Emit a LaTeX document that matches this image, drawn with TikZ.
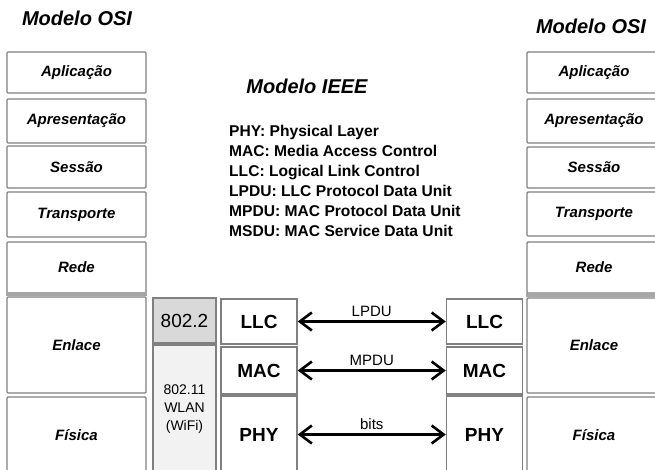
\documentclass[tikz,border=0pt]{standalone}
\usepackage{fontspec}
\setmainfont{Liberation Sans}
\usetikzlibrary{arrows.meta}

\begin{document}
\begin{tikzpicture}[x=1pt, y=-1pt,
    every node/.append style={inner sep=0pt},
    osibox/.style={draw=black!50, line width=1.4pt, rounded corners=1pt,
      minimum width=139pt, font=\fontsize{15}{18}\selectfont\bfseries\itshape},
    ieeebox/.style={draw=black!50, line width=1.4pt, minimum width=76pt,
      font=\fontsize{19}{22}\selectfont\bfseries},
    stdbox/.style={draw=black!50, line width=1.4pt, minimum width=63pt, align=center},
    pdu/.style={{Straight Barb[length=12pt,width=18pt]}-{Straight Barb[length=12pt,width=18pt]},
      line width=2.6pt},
    pdulabel/.style={midway, above=4pt, font=\fontsize{15}{18}\selectfont},
    title/.style={font=\fontsize{20}{24}\selectfont\bfseries\itshape}]
  \clip (0,0) rectangle (655,469);

  % titles and legend
  \node (osiL) [title] at (77,18) {Modelo OSI};
  \node (osiR) [title] at (591,26) {Modelo OSI};
  \node (ieee) [title] at (307,86) {Modelo IEEE};
  \node (legend) [anchor=north west, align=left, font=\fontsize{15.6}{20}\selectfont\bfseries]
    at (229,124.5) {PHY: Physical Layer\\MAC: Media Access Control\\LLC: Logical Link Control\\
    LPDU: LLC Protocol Data Unit\\MPDU: MAC Protocol Data Unit\\MSDU: MAC Service Data Unit};

  % OSI model, left
  \node (aplL) [osibox, minimum height=41pt] at (76.5,72.5) {Aplicação};
  \node (aprL) [osibox, minimum height=44pt] at (76.5,121) {Apresentação};
  \node (sesL) [osibox, minimum height=42pt] at (76.5,167) {Sessão};
  \node (traL) [osibox, minimum height=45pt] at (76.5,214.5) {Transporte};
  \node (redL) [osibox, minimum height=51pt] at (76.5,267.5) {Rede};
  \node (enlL) [osibox, minimum height=96pt] at (76.5,345) {Enlace};
  \node (fisL) [osibox, minimum height=76pt] at (76.5,435) {Física};
  \draw[line width=4pt, black!35] ([yshift=2.5pt]enlL.north west) -- ([yshift=2.5pt]enlL.north east);

  % OSI model, right
  \node (aplR) [osibox, minimum width=134pt, minimum height=41pt] at (594,72.5) {Aplicação};
  \node (aprR) [osibox, minimum width=134pt, minimum height=44pt] at (594,121) {Apresentação};
  \node (sesR) [osibox, minimum width=134pt, minimum height=41pt] at (594,167.5) {Sessão};
  \node (traR) [osibox, minimum width=134pt, minimum height=44pt] at (594,214) {Transporte};
  \node (redR) [osibox, minimum width=134pt, minimum height=51pt] at (594,267.5) {Rede};
  \node (enlR) [osibox, minimum width=134pt, minimum height=95pt] at (594,345.5) {Enlace};
  \node (fisR) [osibox, minimum width=134pt, minimum height=76pt] at (594,435) {Física};
  \draw[line width=4pt, black!35] ([yshift=2.5pt]enlR.north west) -- ([yshift=2.5pt]enlR.north east);

  % IEEE standards
  \node (std2) [stdbox, fill=black!15, minimum height=45pt, font=\fontsize{19}{22}\selectfont]
    at (184.5,320.5) {802.2};
  \node (std11) [stdbox, fill=black!5, minimum height=128pt, font=\fontsize{14}{18}\selectfont]
    at (184.5,409) {802.11\\WLAN\\(WiFi)};

  % IEEE model, both sides
  \node (llcL) [ieeebox, minimum height=45pt] at (259,321.5) {LLC};
  \node (macL) [ieeebox, minimum height=47pt] at (259,370.5) {MAC};
  \node (phyL) [ieeebox, minimum height=77pt] at (259,434.5) {PHY};
  \node (llcR) [ieeebox, minimum height=45pt] at (484.5,321.5) {LLC};
  \node (macR) [ieeebox, minimum height=47pt] at (484.5,370.5) {MAC};
  \node (phyR) [ieeebox, minimum height=77pt] at (484.5,434.5) {PHY};

  % peer exchanges
  \draw[pdu] (llcL) -- (llcR) node[pdulabel] {LPDU};
  \draw[pdu] (macL) -- (macR) node[pdulabel] {MPDU};
  \draw[pdu] (phyL) -- (phyR) node[pdulabel] {bits};
\end{tikzpicture}
\end{document}
